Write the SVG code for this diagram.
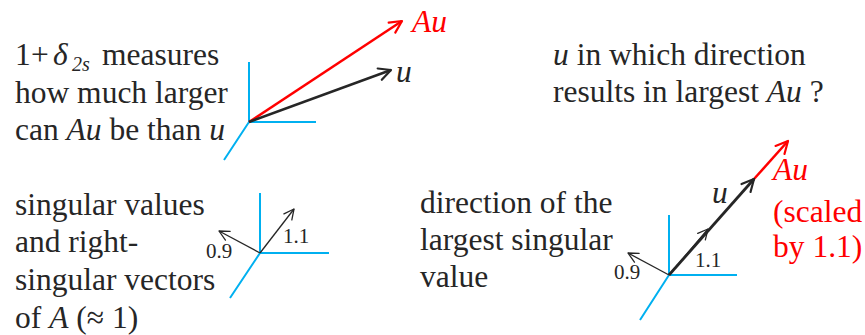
<svg xmlns="http://www.w3.org/2000/svg" width="865" height="335" viewBox="0 0 865 335" font-family="Liberation Serif, Times New Roman, serif">
<style>
text{fill:#262626}
.t{font-size:31.5px}
.s{font-size:21px}
.i{font-style:italic}
.red{fill:#ff0000}
.ax{stroke:#00b0f0;stroke-width:2;fill:none}
.bk{stroke:#262626;fill:none}
.rd{stroke:#ff0000;fill:none}
</style>
<defs>
<marker id="hk" viewBox="-14 -8 16 16" markerWidth="16" markerHeight="16" refX="0" refY="0" orient="auto" markerUnits="userSpaceOnUse">
<path d="M-12,-6 L0,0 L-12,6" fill="none" stroke="#262626" stroke-width="2.2" stroke-linecap="round" stroke-linejoin="round"/>
</marker>
<marker id="hr" viewBox="-14 -8 16 16" markerWidth="16" markerHeight="16" refX="0" refY="0" orient="auto" markerUnits="userSpaceOnUse">
<path d="M-12,-6 L0,0 L-12,6" fill="none" stroke="#ff0000" stroke-width="2.2" stroke-linecap="round" stroke-linejoin="round"/>
</marker>
<marker id="hs" viewBox="-12 -7 14 14" markerWidth="14" markerHeight="14" refX="0" refY="0" orient="auto" markerUnits="userSpaceOnUse">
<path d="M-10,-5 L0,0 L-10,5" fill="none" stroke="#262626" stroke-width="1.3" stroke-linecap="round" stroke-linejoin="round"/>
</marker>
</defs>

<g id="text-top-left" font-family="Liberation Serif, serif">
<text class="t" font-family="Liberation Serif, serif" y="65"><tspan x="15">1</tspan><tspan x="31">+</tspan><tspan x="53" class="i">δ</tspan><tspan x="72" y="71" font-size="20" class="i">2s</tspan><tspan x="102" y="65">measures</tspan></text>
<text class="t" font-family="Liberation Serif, serif" x="15" y="103">how much larger</text>
<text class="t" font-family="Liberation Serif, serif" x="15" y="140">can <tspan class="i">Au</tspan> be than <tspan class="i">u</tspan></text>
</g>

<g id="text-top-right" font-family="Liberation Serif, serif">
<text class="t" font-family="Liberation Serif, serif" x="553" y="65"><tspan class="i">u</tspan> in which direction</text>
<text class="t" font-family="Liberation Serif, serif" x="553" y="102">results in largest <tspan class="i">Au</tspan> ?</text>
</g>

<g id="text-bottom-left" font-family="Liberation Serif, serif">
<text class="t" font-family="Liberation Serif, serif" x="15" y="215">singular values</text>
<text class="t" font-family="Liberation Serif, serif" x="15" y="252">and right-</text>
<text class="t" font-family="Liberation Serif, serif" x="15" y="290">singular vectors</text>
<text class="t" font-family="Liberation Serif, serif" x="15" y="328">of <tspan class="i">A</tspan> (≈ 1)</text>
</g>

<g id="text-bottom-right" font-family="Liberation Serif, serif">
<text class="t" font-family="Liberation Serif, serif" x="420" y="213">direction of the</text>
<text class="t" font-family="Liberation Serif, serif" x="420" y="250">largest singular</text>
<text class="t" font-family="Liberation Serif, serif" x="420" y="287">value</text>
</g>

<g id="axes">
<path class="ax" d="M249,62 V122 H316 M249,122 L224,160"/>
<path class="ax" d="M260,193 V253 H329 M260,253 L230,298"/>
<path class="ax" d="M669,215 V275 H737 M669,275 L640,320"/>
</g>

<g id="connectors">
<line class="rd" x1="249" y1="122" x2="402" y2="21" stroke-width="2.5" marker-end="url(#hr)"/>
<line class="bk" x1="249" y1="122" x2="391" y2="70" stroke-width="2.5" marker-end="url(#hk)"/>
<line class="bk" x1="260" y1="253" x2="294" y2="209" stroke-width="1.3" marker-end="url(#hs)"/>
<line class="bk" x1="260" y1="253" x2="219" y2="231" stroke-width="1.3" marker-end="url(#hs)"/>
<line class="bk" x1="669" y1="275" x2="628" y2="253" stroke-width="1.3" marker-end="url(#hs)"/>
<line class="rd" x1="754" y1="179" x2="788" y2="141" stroke-width="2.5" marker-end="url(#hr)"/>
<line class="bk" x1="669" y1="275" x2="754" y2="179" stroke-width="2.8" marker-end="url(#hk)"/>
<line class="bk" x1="669" y1="275" x2="708" y2="229" stroke-width="1.3" marker-end="url(#hs)"/>
</g>

<g id="labels" font-family="Liberation Serif, serif">
<text class="t i red" font-family="Liberation Serif, serif" x="412" y="32">Au</text>
<text class="t i" font-family="Liberation Serif, serif" x="396" y="82">u</text>
<text class="s" font-family="Liberation Serif, serif" x="283" y="243">1.1</text>
<text class="s" font-family="Liberation Serif, serif" x="206" y="258">0.9</text>
<text class="t i" font-family="Liberation Serif, serif" x="712" y="203">u</text>
<text class="s" font-family="Liberation Serif, serif" x="695" y="267">1.1</text>
<text class="s" font-family="Liberation Serif, serif" x="614" y="279">0.9</text>
<text class="t i red" font-family="Liberation Serif, serif" x="773" y="180">Au</text>
<text class="t red" font-family="Liberation Serif, serif" x="773" y="222">(scaled</text>
<text class="t red" font-family="Liberation Serif, serif" x="773" y="257">by 1.1)</text>
</g>
</svg>
